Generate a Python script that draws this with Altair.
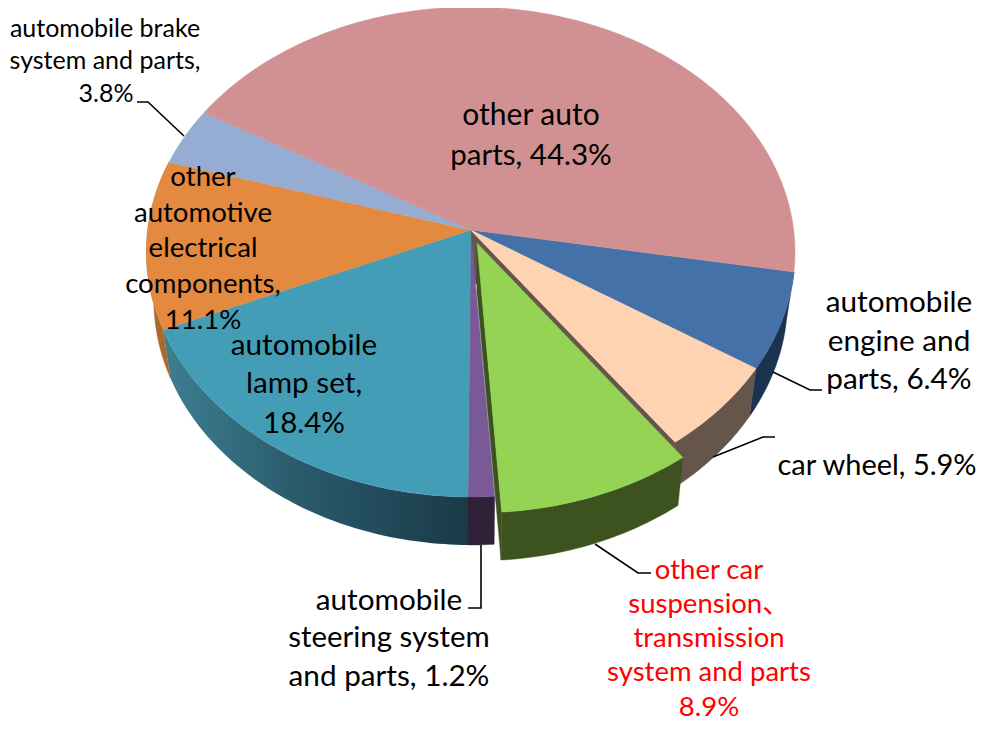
import math
import altair as alt

# ---- data -------------------------------------------------------------
names = ["automobile engine and parts", "car wheel",
         "other car suspension, transmission system and parts",
         "automobile steering system and parts", "automobile lamp set",
         "other automotive electrical components",
         "automobile brake system and parts", "other auto parts"]
values = [6.4, 5.9, 8.9, 1.2, 18.4, 11.1, 3.8, 44.3]

top_colors = ["#4472a8", "#fdd3b2", "#94d353", "#7a5a96", "#449db6", "#e38a40", "#95add3", "#d19192"]
wall_colors = ["#1c3350", "#66554a", "#3c5320", "#2f2238", "#2a5a6c", "#a9692f", "#6a7fa0", "#9a6a6c"]

label_lines = ["other auto", "parts, 44.3%",
               "automobile", "engine and", "parts, 6.4%",
               "car wheel, 5.9%",
               "other car", "suspension\u3001", "transmission", "system and parts", "8.9%",
               "automobile", "steering system", "and parts, 1.2%",
               "automobile", "lamp set,", "18.4%",
               "other", "automotive", "electrical", "components,", "11.1%",
               "automobile brake", "system and parts,", "3.8%"]
label_x = [531, 531, 899, 899, 899, 877, 709, 709, 709, 709, 709, 389, 389, 389,
           304, 304, 304, 203, 203, 203, 203, 203, 105, 105, 106]
label_y = [125, 165, 312, 351, 389, 475, 579, 613, 647, 681, 716, 610, 647, 686,
           355, 393, 433, 186, 222, 257, 293, 329, 37, 69, 102]
label_size = [30, 29.5, 29.7, 29.7, 29.7, 29.0,
              27.5, 27.5, 27.5, 27.5, 27.5,
              29.7, 29.4, 29.7,
              29.7, 29.7, 29.5,
              27.6, 27.6, 27.6, 27.6, 27.6,
              25, 25, 25]
label_color = ["#000000"] * 6 + ["#ff0000"] * 5 + ["#000000"] * 14

leaders = {
    "brake": [(137, 102), (148, 102), (184, 136)],
    "engine": [(773, 372), (810, 390), (822, 390)],
    "wheel": [(713, 457), (763, 437), (775, 437)],
    "suspension": [(595, 544), (638, 573), (651, 573)],
    "steering": [(481, 545), (481, 608), (468, 608)],
}

# ---- layout of the tilted pie -----------------------------------------
OFF = 8
CX, CY = 470.7, 230.0
A, B, K = 323.0, 243.0, -0.0898
DEPTH, SHRINK = 48.0, 0.977
START = 99.8
EXPLODED = 2
EXPLODE_R = 0.057


def project(u, v, lower=False):
    w = 1 + K * v
    x, y = A * u / w, B * v / w
    if lower:
        x *= SHRINK
        y += DEPTH
    return [CX + x - OFF, CY + y - OFF]


def pt(theta, r=1.0, du=0.0, dv=0.0, lower=False):
    t = math.radians(theta)
    return project(r * math.sin(t) + du, -r * math.cos(t) + dv, lower)


def arc(t0, t1, du=0.0, dv=0.0, lower=False):
    n = max(2, int(abs(t1 - t0)) + 2)
    return [pt(t0 + (t1 - t0) * i / (n - 1), 1.0, du, dv, lower) for i in range(n)]


def feature(ring, fill):
    ring = ring + [ring[0]]
    return {"type": "Feature", "properties": {"fill": fill},
            "geometry": {"type": "Polygon", "coordinates": [ring]}}


spans, a = [], START
for val in values:
    d = val / sum(values) * 360
    spans.append((a, a + d))
    a += d

walls, tops, front = [], [], []
lamp_wall = []
for i, (t0, t1) in enumerate(spans):
    if i == EXPLODED:
        continue
    wall = feature(arc(t0, t1) + arc(t1, t0, lower=True), wall_colors[i])
    if names[i] == "automobile lamp set":
        lamp_wall.append(wall)
    elif names[i] not in ("other auto parts", "automobile brake system and parts"):
        walls.append(wall)
    tops.append(feature([pt(t0, 0.0)] + arc(t0, t1), top_colors[i]))

# cut face left open by the pulled-out slice
t0, t1 = spans[EXPLODED]
walls.append(feature([pt(t0, 0.0), pt(t0), pt(t0, lower=True), pt(t0, 0.0, lower=True)], wall_colors[1]))

mid = math.radians((t0 + t1) / 2)
du, dv = EXPLODE_R * math.sin(mid), -EXPLODE_R * math.cos(mid)
front.append(feature(arc(t0, t1, du, dv) + arc(t1, t0, du, dv, lower=True), wall_colors[EXPLODED]))
front.append(feature([pt(t1, 0.0, du, dv), pt(t1, 1.0, du, dv), pt(t1, 1.0, du, dv, True), pt(t1, 0.0, du, dv, True)],
                     wall_colors[EXPLODED]))
front.append(feature([pt(t0, 0.0, du, dv)] + arc(t0, t1, du, dv), top_colors[EXPLODED]))

proj = dict(type="identity", scale=1, translate=[0, 0])
shape_enc = dict(fill=alt.Color("properties.fill:N", scale=None),
                 stroke=alt.Color("properties.fill:N", scale=None))

lamp_layer = alt.Chart(alt.Data(values=lamp_wall)).mark_geoshape(
    fill={"gradient": "linear", "x1": 0, "x2": 1, "y1": 0, "y2": 0,
          "stops": [{"offset": 0, "color": "#3d7f92"}, {"offset": 0.45, "color": "#2a5a6c"},
                    {"offset": 1, "color": "#1a3a48"}]},
    strokeWidth=0).project(**proj)
shapes = alt.Chart(alt.Data(values=walls + tops + front)).mark_geoshape(strokeWidth=0.4).encode(**shape_enc).project(**proj)

leader_rows = [{"id": k, "order": i, "px": x - OFF, "py": y - OFF}
               for k, pts in leaders.items() for i, (x, y) in enumerate(pts)]
leader_layer = alt.Chart(alt.Data(values=leader_rows)).mark_line(color="#000000", strokeWidth=1.6).encode(
    x=alt.X("px:Q", scale=None, axis=None), y=alt.Y("py:Q", scale=None, axis=None),
    detail="id:N", order="order:Q")

text_rows = [{"t": t, "px": x - OFF, "py": y - OFF, "s": s, "c": c}
             for t, x, y, s, c in zip(label_lines, label_x, label_y, label_size, label_color)]
text_layer = alt.Chart(alt.Data(values=text_rows)).mark_text(
    font="Lato, Noto Sans CJK SC", align="center", baseline="alphabetic").encode(
    x=alt.X("px:Q", scale=None, axis=None), y=alt.Y("py:Q", scale=None, axis=None),
    text="t:N", size=alt.Size("s:Q", scale=None, legend=None), color=alt.Color("c:N", scale=None))

chart = alt.layer(lamp_layer, shapes, leader_layer, text_layer).properties(
    width=970, height=713, padding=0, autosize=alt.AutoSizeParams(type="none"),
    background="#ffffff").configure_view(stroke=None)

chart.save("out.html", embed_options={"renderer": "svg", "actions": False})
